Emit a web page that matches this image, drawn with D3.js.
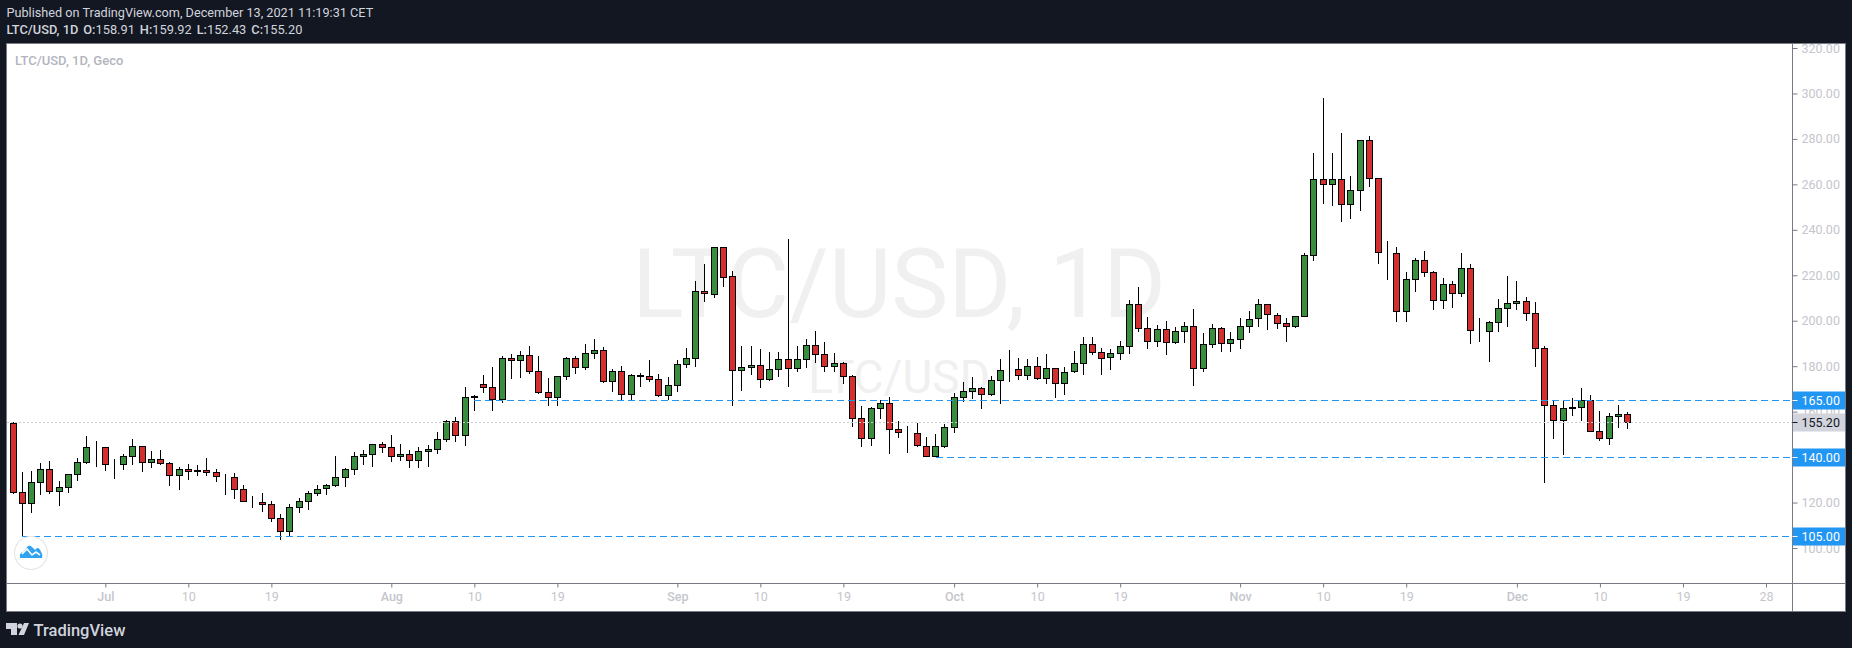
<!DOCTYPE html>
<html><head><meta charset="utf-8">
<script src="https://cdnjs.cloudflare.com/ajax/libs/d3/7.8.5/d3.min.js"></script>
<style>html,body{margin:0;padding:0;background:#131722;overflow:hidden}svg{display:block}text{font-family:Roboto,"Noto Sans",sans-serif}</style>
</head><body><svg id="c" width="1852" height="648"></svg>
<script>
const firstDay = "2021-06-21", lastDay = "2021-12-13";
const opens = [154.8,124.5,119.6,128.9,134.6,124.9,126.7,132.4,137.7,144.3,
144.3,136.8,136.8,140.3,144.7,137.7,139,137.2,132,134.6,
133.8,134.2,133.3,131.5,131.1,125.8,120.5,120.1,119.2,113,
107.3,117.9,120.5,124,126.2,127.6,131.1,134.6,140.3,141.2,
145.6,144.3,140.3,141.2,138.6,142.5,143.4,147.8,155.7,149.6,
166.2,172,170.7,165.4,183.4,182.6,184.8,177.7,168.5,166.3,
175.5,183.4,179.5,185.6,187,173.3,177.7,167.6,175.6,175.5,
174.2,167.2,171.6,180.8,183.4,212.9,211.6,232.3,219.5,178.2,
179.5,180.4,174.2,178.6,183,179,182.8,189.1,185.2,179.9,
181.2,175.5,157,148.2,161.4,163.6,152.2,150.9,150.4,144.7,
140.3,144.7,153.1,166.3,168.9,170.2,167.6,173.8,178.6,178.6,
176,179.9,174.6,179,172.4,177.7,181.2,189.6,186.1,183.9,
185.6,188.7,207.2,196.6,190.9,196.2,190.5,195.3,197.5,179,
189.6,196.6,190,191.8,197.5,201,207.2,202.3,198.8,197.5,
201.9,228.7,262.2,260,262.2,251.2,257.3,279.3,262.6,230,
229.6,204.1,218.2,226.5,221.3,208.9,216,212,223,195.8,
195.3,199.3,205.4,207.6,208.5,203.2,187.8,162.8,156.2,161.5,
161.9,165,151.3,148.2,157.9,158.91];
const closes = [124.5,119.6,128.9,134.6,124.9,126.7,132.4,137.7,144.3,144.3,
136.8,136.8,140.3,144.7,137.7,139,137.1,132,134.6,133.7,
134.1,133.1,131.4,131.3,125.8,120.4,120.3,119.2,113,107.3,
117.9,120.5,124,125.8,127.6,131.1,134.6,140.3,141.2,145.6,
144.3,140.3,141.2,138.6,142.5,143.4,147.8,155.7,149.6,166.3,
166.6,170.7,165.4,183.4,182.6,184.8,177.7,168.5,166.3,175.5,
183.4,179.5,185.6,187,173.3,177.7,167.6,176,176,174.2,
167.2,171.6,180.8,183.4,212.9,212,232.3,219.1,178.2,179.5,
180.4,174.2,178.6,183,179,183,189.1,185.2,179.9,181.2,
175.5,157,148.2,161.4,163.6,152.2,150.9,150.9,145.2,140.3,
144.7,153.1,166.3,168.9,170.2,167.6,173.8,178.2,178.6,176,
179.9,174.6,179,172.4,177.3,181.2,189.6,186.1,183.4,185.6,
188.7,207.2,196.6,190.9,196.2,190.5,195.3,197.5,179,189.6,
196.6,190,191.8,197.5,200.6,207.2,202.8,198.8,197.5,201.9,
228.7,262.2,260,262.2,251.2,257.3,279.3,262.6,230,229.8,
204.1,218.2,226.5,221.3,208.9,216,212,223,195.7,195.5,
199.3,205.4,207.6,208.5,203.2,187.8,162.8,156.2,161.4,161.7,
165,151.3,148.2,157.9,158.8,155.2];
const highs = [155.4,133.4,133.9,137.2,138.3,129.5,132.4,139.6,149.3,147.1,
144.3,139.1,141.2,147.9,144.7,142.5,143.1,137.7,135.5,136.8,
136.4,139.6,134.6,132.4,132.8,127.6,122.9,124,120.5,114.8,
119.2,121.8,124.9,127.6,128,140.3,135,142.1,143,145.6,
146.5,149.7,145.6,143.1,144.3,145.2,150.9,156.2,157.5,170.7,
167.2,176.1,179.6,184.3,185.2,186.5,189.1,184.3,174.6,175.5,
183.9,184.3,189.6,191.8,188.3,178.6,179.9,176.4,176.8,182.6,
176.4,175.1,182.6,187.8,217.3,224.8,232.3,232.3,221.7,188.7,
188.7,187.4,186.1,186.1,235.8,188.7,191.8,195.3,190.5,185.6,
181.7,176,162.3,161.9,165,166.3,155.9,153.5,154.8,148.7,
150,154.4,168,172.9,175.1,170.7,175.5,183,187,183.4,
183,183.9,185.2,179,179.5,186.5,192.7,192.7,187.8,187.4,
191.3,209,214.7,201.5,198,199.7,197.1,199.3,205,194.4,
198.4,197.1,194.9,201,204.5,209.4,207.2,203.2,201,201.9,
229.6,274,297.8,274,282.4,263.9,279.3,281.1,263,235.3,
232.3,221.3,227.4,230.5,221.7,218.6,217.7,229.6,224.8,201,
200.1,209.4,219.9,217.7,210.3,208.1,189.1,165,164.5,165.8,
170.2,167.2,160.1,159.2,162.8,159.92];
const lows = [123.9,105,115.5,123.5,123.9,118.6,124.3,129.6,137.1,135.8,
134,130.5,134.5,136.7,133.6,135.3,136.7,127.4,125.7,130.1,
131.8,131.8,129.2,123.3,121.7,120.4,117.7,116,111.6,103.7,
105,115.5,116.7,123,123.5,126.7,127,132.3,136.7,135.8,
141.6,138,138.4,135.3,135.3,135.8,141.5,146.8,146.8,145,
160.4,168.3,160.4,164,174.5,174.9,176.4,167.9,162.6,162.6,
174,176.7,178.4,183.3,172.4,168.8,165,165,171,172.9,
166.3,165.2,168.8,179.3,179.8,208.4,210.1,215,162.6,169.2,
176.2,170.5,173.3,175.1,170.7,177.6,179.3,181.5,177.6,177.6,
172.3,153.4,144.6,145,156.9,141.5,148.5,141.9,144.6,139.9,
139.9,143.8,150.7,164.4,165.4,161.3,166.7,163.5,173.2,174,
174,174,172.3,166.1,167.4,176.8,176.2,185,176.2,178.4,
182.8,185.5,195.2,187.7,188.6,185,189.6,190,171.4,177.4,
188.1,186.4,186.4,187.7,194.7,197.4,196,196.5,190.8,196.9,
201.9,226.2,251.5,250.6,243.5,244.9,248.4,258.9,225.1,218,
199.6,199.6,212.8,219.4,204.8,205.3,205.7,210.6,189.9,190.8,
182,195.2,197.4,204.7,200,179.8,128.7,148.1,141.1,158.2,
156,151.3,147.2,145.5,152.9,152.43];
const priceTicks = [100,120,140,160,180,200,220,240,260,280,300,320];
const dateTicks = ["2021-07-01","2021-07-10","2021-07-19","2021-08-01","2021-08-10","2021-08-19","2021-09-01","2021-09-10","2021-09-19","2021-10-01","2021-10-10","2021-10-19","2021-11-01","2021-11-10","2021-11-19","2021-12-01","2021-12-10","2021-12-19","2021-12-28"];
const dateTickLabels = ["Jul","10","19","Aug","10","19","Sep","10","19","Oct","10","19","Nov","10","19","Dec","10","19","28"];
const levelValues = [105,140,165];
const levelStarts = ["2021-06-22","2021-09-29","2021-08-10"];
const lastClose = 155.20;

const pd = s => new Date(s+"T00:00:00Z");
const days = d3.utcDay.range(pd(firstDay), d3.utcDay.offset(pd(lastDay),1));
const x = d3.scaleUtc().domain([pd("2021-07-01"),pd("2021-12-28")]).range([105.3,1766]);
const y = d3.scaleLinear().domain([100,320]).range([548,48]);
const L=6.5,T=43.5,AX=1792.5,AY=583.5,R=1845.5,B=611.5;
const svg=d3.select("#c");
const snap=v=>Math.round(v-0.5)+0.5;

// header
svg.append("text").attr("x",6.5).attr("y",17).attr("fill","#d1d4dc").attr("font-size",12.7).text("Published on TradingView.com, December 13, 2021 11:19:31 CET");
const h2=svg.append("text").attr("x",6.5).attr("y",34).attr("fill","#d1d4dc").attr("font-size",12.8);
[["LTC/USD, 1D",1,0],["O:",1,5],["158.91",0,0],["H:",1,5],["159.92",0,0],["L:",1,5],["152.43",0,0],["C:",1,5],["155.20",0,0]].forEach(([t,b,dx])=>h2.append("tspan").attr("dx",dx).attr("font-weight",b?500:400).text(t));

// plot
svg.append("rect").attr("x",L).attr("y",T).attr("width",R-L).attr("height",B-T).attr("fill","#fff").attr("stroke","#787b86");
const wm=svg.append("g").attr("fill","#f0f0f0").attr("text-anchor","middle");
wm.append("text").attr("x",899).attr("y",317).attr("font-size",96).attr("font-weight",400).text("LTC/USD, 1D");
wm.append("text").attr("x",899).attr("y",393).attr("font-size",46).attr("font-weight",400).text("LTC/USD");
svg.append("text").attr("x",15).attr("y",65).attr("fill","#b2b5be").attr("font-size",13).attr("font-weight",500).text("LTC/USD, 1D, Geco");

// candles
const cg=svg.append("g");
const cs=cg.selectAll("g").data(days).join("g");
cs.append("line").attr("x1",d=>snap(x(d))).attr("x2",d=>snap(x(d)))
 .attr("y1",(d,i)=>y(highs[i])).attr("y2",(d,i)=>y(lows[i])).attr("stroke","#000").attr("shape-rendering","crispEdges");
cs.append("rect").attr("x",d=>snap(x(d))-3).attr("width",6)
 .attr("y",(d,i)=>snap(y(Math.max(opens[i],closes[i]))))
 .attr("height",(d,i)=>Math.max(0,snap(y(Math.min(opens[i],closes[i])))-snap(y(Math.max(opens[i],closes[i])))))
 .attr("fill",(d,i)=>closes[i]>=opens[i]?"#388e3c":"#d32f2f").attr("stroke","#000").attr("shape-rendering","crispEdges");

// levels
svg.append("line").attr("x1",L).attr("x2",AX).attr("y1",snap(y(lastClose))).attr("y2",snap(y(lastClose))).attr("stroke","#c8cad6").attr("stroke-dasharray","2 2").attr("shape-rendering","crispEdges");
svg.selectAll("line.lv").data(levelValues).join("line").attr("class","lv")
 .attr("x1",(d,i)=>x(pd(levelStarts[i]))).attr("x2",AX).attr("y1",d=>snap(y(d))).attr("y2",d=>snap(y(d)))
 .attr("stroke","#2196f3").attr("stroke-dasharray","7 4").attr("shape-rendering","crispEdges");

// axes
svg.append("line").attr("x1",AX).attr("x2",AX).attr("y1",T).attr("y2",B).attr("stroke","#787b86");
svg.append("line").attr("x1",L).attr("x2",R).attr("y1",AY).attr("y2",AY).attr("stroke","#787b86");
const ya=d3.axisRight(y).tickValues(priceTicks).tickSize(5).tickPadding(4).tickFormat(d3.format(".2f"));
const yg=svg.append("g").attr("transform",`translate(${AX},0)`).call(ya);
const xa=d3.axisBottom(x).tickValues(dateTicks.map(pd)).tickSize(4).tickPadding(5).tickFormat((d,i)=>dateTickLabels[i]);
const xg=svg.append("g").attr("transform",`translate(0,${AY})`).call(xa);
[yg,xg].forEach(g=>{g.select(".domain").remove();g.selectAll("line").attr("stroke","#787b86");g.selectAll("text").attr("fill","#c4c6cc").attr("font-size",12.5).style("font-family",'Roboto,"Noto Sans",sans-serif');});
xg.selectAll("text").attr("font-weight",(d,i)=>dateTickLabels[i].length==3?500:400);

// price tags
const tags=svg.append("g");
const tag=(v,bg,fg)=>{const c=snap(y(v));
 tags.append("rect").attr("x",AX+0.5).attr("y",c-9).attr("width",R-AX-1).attr("height",18).attr("fill",bg);
 tags.append("line").attr("x1",AX).attr("x2",AX+5).attr("y1",c).attr("y2",c).attr("stroke",fg=="#fff"?"#fff":"#131722");
 tags.append("text").attr("x",AX+9).attr("y",c+4.5).attr("fill",fg).attr("font-size",12.5).text(d3.format(".2f")(v));};
tag(lastClose,"#d1d4dc","#131722");
levelValues.forEach(v=>tag(v,"#2196f3","#fff"));

// attribution marks
const lg=svg.append("g").attr("transform","translate(31,553)");
lg.append("circle").attr("r",16.5).attr("fill","#fff").attr("stroke","#e6e6e6").attr("stroke-width",1.2);
lg.append("path").attr("d","M-11,5 Q-12,0 -8,-1 L-3,-7 Q-1,-8 1,-6 L4,-3 L6,-5 Q9,-5 10,-1 Q12,1 11,5 Z").attr("fill","#2ea3f2");
lg.append("path").attr("d","M-9,1 L-4,-4 L1,2 L5,-1 L9,2").attr("fill","none").attr("stroke","#fff").attr("stroke-width",1.6);
const tv=svg.append("g").attr("fill","#d1d4dc");
tv.append("path").attr("d","M6,623 H17 V635 H11 V629 H6 Z M24,623 H29 L24,635 H18.5 Z");
tv.append("circle").attr("cx",20).attr("cy",626).attr("r",2.6);
tv.append("text").attr("x",33.5).attr("y",635.5).attr("font-size",16.5).attr("font-weight",500).text("TradingView");
</script></body></html>
